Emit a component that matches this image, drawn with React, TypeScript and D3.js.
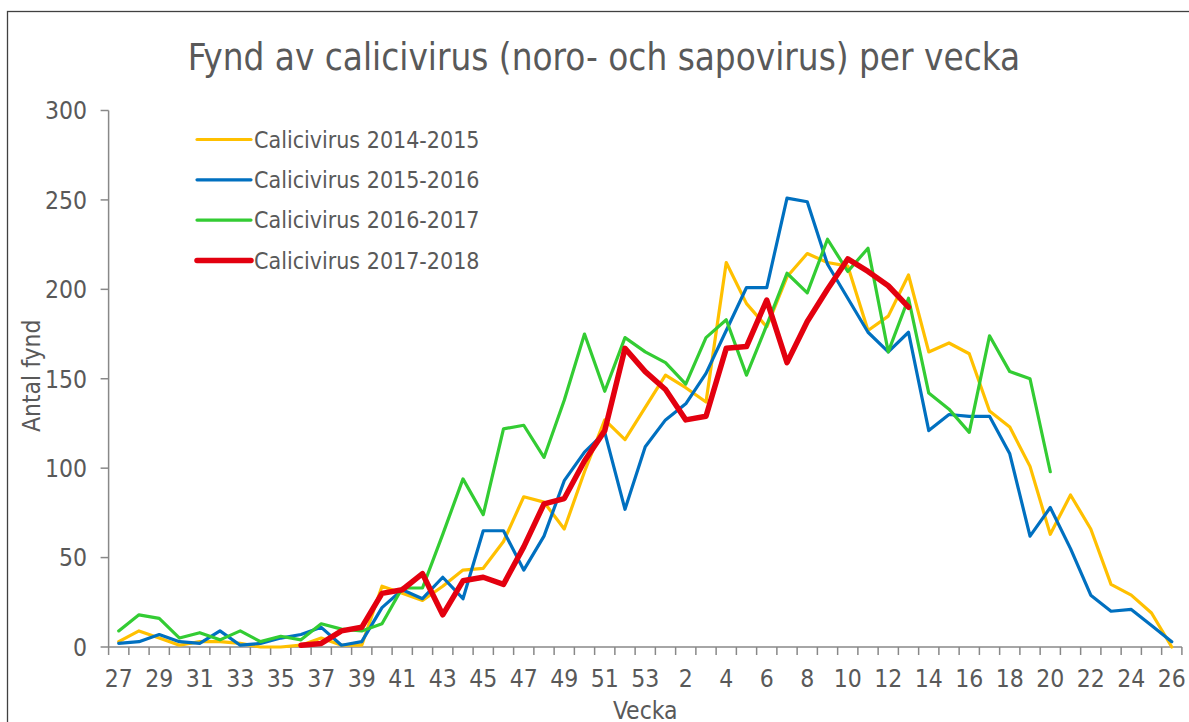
import React from 'react';
import * as d3 from 'd3';

// veckor 27-53, sedan 1-26
const weeks: string[] = [
  ...d3.range(27, 54).map(String),
  ...d3.range(1, 27).map(String),
];

const s2014: (number | null)[] = [
  3, 9, 5, 1, 3, 3, 2, 0, 0, 1, 5, 1, 1, 34, 30, 26, 34, 43, 44, 59, 84, 81, 66, 98, 127, 116, 134,
  152, 145, 137, 215, 192, 179, 207, 220, 215, 213, 177, 185, 208, 165, 170, 164, 132, 123, 101, 63, 85, 66, 35, 29, 19, 0,
];
const s2015: (number | null)[] = [
  2, 3, 7, 3, 2, 9, 1, 2, 5, 7, 11, 1, 3, 22, 32, 27, 39, 27, 65, 65, 43, 62, 93, 109, 120, 77, 112,
  127, 136, 153, 177, 201, 201, 251, 249, 214, 195, 176, 165, 176, 121, 130, 129, 129, 108, 62, 78, 55, 29, 20, 21, 12, 3,
];
const s2016: (number | null)[] = [
  9, 18, 16, 5, 8, 4, 9, 3, 6, 4, 13, 10, 9, 13, 33, 33, 63, 94, 74, 122, 124, 106, 138, 175, 143, 173, 165,
  159, 147, 173, 183, 152, 180, 209, 198, 228, 210, 223, 165, 195, 142, 133, 120, 174, 154, 150, 98,
  null, null, null, null, null, null,
];
const s2017: (number | null)[] = [
  null, null, null, null, null, null, null, null, null, 1, 2, 9, 11, 30, 32, 41, 18, 37, 39, 35, 56, 80, 83, 104, 121, 167, 154,
  144, 127, 129, 167, 168, 194, 159, 182, 200, 217, 210, 202, 190,
  null, null, null, null, null, null, null, null, null, null, null, null, null,
];

const seriesNames = ['Calicivirus 2014-2015', 'Calicivirus 2015-2016', 'Calicivirus 2016-2017', 'Calicivirus 2017-2018'];
const seriesData = [s2014, s2015, s2016, s2017];
const seriesColors = ['#FFC000', '#0070C0', '#33CC33', '#E3000F'];
const seriesWidths = [3.2, 3.2, 3.2, 5.5];

const yTicks = [0, 50, 100, 150, 200, 250, 300];

const W = 1189;
const H = 722;
const FONT = '"DejaVu Sans Condensed", "DejaVu Sans", sans-serif';
const TXT = '#595959';
const AXIS = '#888888';

export default function App() {
  const x = d3.scaleBand<string>().domain(weeks).range([108.6, 1181.9]).padding(0);
  const y = d3.scaleLinear().domain([0, 300]).range([647, 110.5]);
  const bw = x.bandwidth();
  const cx = (i: number) => (x(weeks[i]) as number) + bw / 2;

  const line = d3
    .line<number | null>()
    .defined((d) => d != null)
    .x((_, i) => cx(i))
    .y((d) => y(d as number));

  const [x0, x1] = x.range();
  const [yb, yt] = y.range();
  const boundaries = d3.range(weeks.length + 1).map((i) => x0 + i * bw);

  return (
    <div style={{ position: 'absolute', left: 0, top: 0 }}>
      <svg width={W} height={H} style={{ display: 'block', background: '#fff' }}>
        {/* diagramram */}
        <rect x={7.5} y={11.5} width={W + 20} height={H + 20} fill="#fff" stroke="#404040" strokeWidth={1.3} />

        <text x={604} y={70} textAnchor="middle" fontFamily={FONT} fontSize={36.5} fill={TXT}>
          Fynd av calicivirus (noro- och sapovirus) per vecka
        </text>

        {/* y-axel */}
        <line x1={x0} x2={x0} y1={yt} y2={yb} stroke={AXIS} strokeWidth={1.5} />
        {yTicks.map((t) => (
          <g key={t}>
            <line x1={x0 - 8} x2={x0} y1={y(t)} y2={y(t)} stroke={AXIS} strokeWidth={1.5} />
            <text x={87} y={y(t)} dy="0.36em" textAnchor="end" fontFamily={FONT} fontSize={24.5} fill={TXT}>
              {t}
            </text>
          </g>
        ))}
        <text
          transform={`translate(40, ${(yt + yb) / 2 - 3}) rotate(-90)`}
          textAnchor="middle"
          fontFamily={FONT}
          fontSize={24.5}
          fill={TXT}
        >
          Antal fynd
        </text>

        {/* x-axel */}
        <line x1={x0} x2={x1} y1={yb} y2={yb} stroke={AXIS} strokeWidth={1.5} />
        {boundaries.map((b, i) => (
          <line key={i} x1={b} x2={b} y1={yb} y2={yb + 8} stroke={AXIS} strokeWidth={1.5} />
        ))}
        {weeks.map((w, i) =>
          i % 2 === 0 ? (
            <text key={w} x={cx(i)} y={678} dy="0.36em" textAnchor="middle" fontFamily={FONT} fontSize={24.5} fill={TXT}>
              {w}
            </text>
          ) : null
        )}
        <text x={(x0 + x1) / 2} y={719} textAnchor="middle" fontFamily={FONT} fontSize={24.5} fill={TXT}>
          Vecka
        </text>

        {/* serier */}
        {seriesData.map((d, k) => (
          <path
            key={k}
            d={line(d) || ''}
            fill="none"
            stroke={seriesColors[k]}
            strokeWidth={seriesWidths[k]}
            strokeLinejoin="round"
            strokeLinecap="round"
          />
        ))}

        {/* legend */}
        {seriesNames.map((name, k) => {
          const ly = 139.5 + k * 40.3;
          return (
            <g key={name}>
              <line x1={197} x2={251} y1={ly} y2={ly} stroke={seriesColors[k]} strokeWidth={seriesWidths[k]} strokeLinecap="round" />
              <text x={254} y={ly} dy="0.36em" fontFamily={FONT} fontSize={23} fill={TXT}>
                {name}
              </text>
            </g>
          );
        })}
      </svg>
    </div>
  );
}
